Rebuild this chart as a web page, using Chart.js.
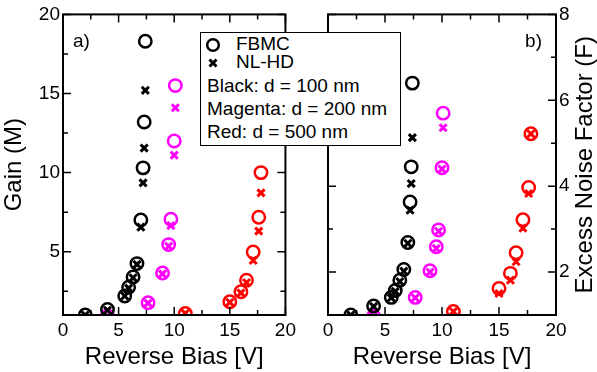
<!DOCTYPE html>
<html>
<head>
<meta charset="utf-8">
<script src="https://cdn.jsdelivr.net/npm/chart.js@4.4.0/dist/chart.umd.min.js"></script>
<style>
  body { margin: 0; background: #fff; font-family: "Liberation Sans", Arial, sans-serif; }
  #wrap { position: relative; width: 597px; height: 372px; overflow: hidden; }
  #c1 { position: absolute; left: 0; top: 0; }
  #c2 { position: absolute; left: 300px; top: 0; }
  #legend { position: absolute; left: 200px; top: 32px; width: 201px; height: 114px; box-sizing: border-box;
            border: 1.5px solid #000; background: #fff; font-size: 19px; color: #000; }
  #legend div { position: absolute; line-height: 20px; white-space: nowrap; }
  #legend svg { position: absolute; }
</style>
</head>
<body>
<div id="wrap">
  <canvas id="c1" width="300" height="372"></canvas>
  <canvas id="c2" width="297" height="372"></canvas>
  <div id="legend">
    <svg style="left:4px;top:4px" width="16" height="16"><circle cx="8" cy="8" r="5.8" fill="none" stroke="#000" stroke-width="2.5"/></svg>
    <div style="left:35px;top:1px">FBMC</div>
    <svg style="left:4px;top:22px" width="16" height="16"><path d="M4.5 4.5L11.5 11.5M11.5 4.5L4.5 11.5" stroke="#000" stroke-width="3"/></svg>
    <div style="left:35px;top:19px">NL-HD</div>
    <div style="left:6px;top:43px">Black: d = 100 nm</div>
    <div style="left:6px;top:66px">Magenta: d = 200 nm</div>
    <div style="left:6px;top:89px">Red: d = 500 nm</div>
  </div>
</div>
<script>
// reverse bias [V] for each thickness
var biasBlack = [2.0, 4.0, 5.55, 5.9, 6.3, 6.65, 7.0, 7.2, 7.3, 7.4];
var biasMagenta = [4.0, 7.65, 8.95, 9.5, 9.7, 10.0, 10.1];
var biasRed = [11.0, 15.0, 16.0, 16.5, 17.1, 17.6, 17.8];

// gain M
var gainBlackFBMC = [1.0, 1.35, 2.2, 2.75, 3.4, 4.25, 7.0, 10.3, 13.2, 18.3];
var gainBlackNLHD = [1.0, 1.3, 2.2, 2.7, 3.35, 4.2, 6.55, 9.35, 11.55, 15.2];
var gainMagentaFBMC = [0.95, 1.78, 3.65, 5.45, 7.05, 12.0, 15.5];
var gainMagentaNLHD = [0.95, 1.75, 3.6, 5.35, 6.65, 11.1, 14.1];
var gainRedFBMC = [1.1, 1.84, 2.47, 3.2, 4.98, 7.18, 10.0];
var gainRedNLHD = [1.1, 1.8, 2.4, 3.05, 4.45, 6.3, 8.72];

// excess noise factor F
var noiseBlackFBMC = [1.0, 1.21, 1.41, 1.57, 1.81, 2.06, 2.69, 3.63, 4.45, 6.4];
var noiseBlackNLHD = [1.0, 1.2, 1.4, 1.55, 1.78, 2.02, 2.67, 3.44, 4.06, 5.13];
var noiseMagentaFBMC = [0.97, 1.41, 2.03, 2.59, 2.98, 4.43, 5.7];
var noiseMagentaNLHD = [0.97, 1.4, 2.0, 2.55, 2.95, 4.4, 5.36];
var noiseRedFBMC = [1.08, 1.62, 1.97, 2.45, 3.22, 3.97, 5.22];
var noiseRedNLHD = [1.08, 1.5, 1.81, 2.24, 3.02, 3.83, 5.22];

// ticks
var biasTicks = [0, 5, 10, 15, 20];
var biasMinor = [2.5, 7.5, 12.5, 17.5];
var gainTicks = [5, 10, 15, 20];
var gainMinor = [2.5, 7.5, 12.5, 17.5];
var noiseTicks = [2, 4, 6, 8];
var noiseMinor = [1, 3, 5, 7];

function pts(xs, ys) {
    return xs.map(function (x, i) { return { x: x, y: ys[i] }; });
}

function circles(xs, ys, color) {
    return { data: pts(xs, ys), pointStyle: "circle", pointRadius: 6.2, borderWidth: 2.5,
             borderColor: color, backgroundColor: "rgba(0,0,0,0)", clip: 0 };
}

function crosses(xs, ys, color) {
    return { data: pts(xs, ys), pointStyle: "crossRot", pointRadius: 5, borderWidth: 3,
             borderColor: color, backgroundColor: color, clip: 0 };
}

// frame with inward ticks, panel label, optional right title
var framePlugin = {
    id: "frame",
    afterDatasetsDraw: function (chart, args, o) {
        var ctx = chart.ctx, a = chart.chartArea;
        var sx = chart.scales.x, sy = chart.scales.y;
        ctx.save();
        ctx.strokeStyle = "#000";
        ctx.lineWidth = 1.5;
        function xt(list, len) {
            list.forEach(function (v) {
                var p = sx.getPixelForValue(v);
                ctx.beginPath();
                ctx.moveTo(p, a.bottom); ctx.lineTo(p, a.bottom - len);
                ctx.moveTo(p, a.top); ctx.lineTo(p, a.top + len);
                ctx.stroke();
            });
        }
        function yt(list, len) {
            list.forEach(function (v) {
                var p = sy.getPixelForValue(v);
                ctx.beginPath();
                ctx.moveTo(a.left, p); ctx.lineTo(a.left + len, p);
                ctx.moveTo(a.right, p); ctx.lineTo(a.right - len, p);
                ctx.stroke();
            });
        }
        xt(biasTicks, 8); xt(biasMinor, 5);
        yt(o.yMajor, 8); yt(o.yMinor, 5);
        ctx.lineWidth = 2;
        ctx.strokeRect(a.left, a.top, a.right - a.left, a.bottom - a.top);

        ctx.fillStyle = "#000";
        ctx.font = "19px 'Liberation Sans', Arial, sans-serif";
        ctx.textBaseline = "middle";
        ctx.textAlign = o.labelAlign;
        ctx.fillText(o.label, o.labelAlign === "left" ? a.left + 10 : a.right - 14, a.top + 27);

        if (o.rightTitle) {
            ctx.font = "24px 'Liberation Sans', Arial, sans-serif";
            ctx.textAlign = "center";
            ctx.translate(chart.width - 12, (a.top + a.bottom) / 2);
            ctx.rotate(-Math.PI / 2);
            ctx.fillText(o.rightTitle, 0, 0);
        }
        ctx.restore();
    }
};

Chart.defaults.font.family = "'Liberation Sans', Arial, sans-serif";
Chart.defaults.color = "#000";

function xScale() {
    return {
        type: "linear", min: 0, max: 20,
        afterBuildTicks: function (s) { s.ticks = biasTicks.map(function (v) { return { value: v }; }); },
        grid: { display: false, drawTicks: false },
        border: { display: false },
        ticks: { font: { size: 19 }, padding: 4, maxRotation: 0 },
        title: { display: true, text: "Reverse Bias [V]", font: { size: 24 }, padding: { top: 0, bottom: 0 } },
        afterFit: function (s) { s.height = 57; }
    };
}

new Chart(document.getElementById("c1"), {
    type: "scatter",
    data: {
        datasets: [
            circles(biasBlack, gainBlackFBMC, "#000000"),
            crosses(biasBlack, gainBlackNLHD, "#000000"),
            circles(biasMagenta, gainMagentaFBMC, "#ff00ff"),
            crosses(biasMagenta, gainMagentaNLHD, "#ff00ff"),
            circles(biasRed, gainRedFBMC, "#ff0000"),
            crosses(biasRed, gainRedNLHD, "#ff0000")
        ]
    },
    options: {
        responsive: false,
        animation: false,
        events: [],
        layout: { padding: { top: 13, right: 10, left: 0, bottom: 0 } },
        plugins: {
            legend: { display: false },
            tooltip: { enabled: false },
            frame: { yMajor: gainTicks, yMinor: gainMinor, label: "a)", labelAlign: "left" }
        },
        scales: {
            x: xScale(),
            y: {
                type: "linear", min: 1, max: 20,
                afterBuildTicks: function (s) { s.ticks = gainTicks.map(function (v) { return { value: v }; }); },
                grid: { display: false, drawTicks: false },
                border: { display: false },
                ticks: { font: { size: 19 }, padding: 3 },
                title: { display: true, text: "Gain (M)", font: { size: 24 }, padding: { top: 0, bottom: 0 } },
                afterFit: function (s) { s.width = 63; }
            }
        }
    },
    plugins: [framePlugin]
});

new Chart(document.getElementById("c2"), {
    type: "scatter",
    data: {
        datasets: [
            circles(biasBlack, noiseBlackFBMC, "#000000"),
            crosses(biasBlack, noiseBlackNLHD, "#000000"),
            circles(biasMagenta, noiseMagentaFBMC, "#ff00ff"),
            crosses(biasMagenta, noiseMagentaNLHD, "#ff00ff"),
            circles(biasRed, noiseRedFBMC, "#ff0000"),
            crosses(biasRed, noiseRedNLHD, "#ff0000")
        ]
    },
    options: {
        responsive: false,
        animation: false,
        events: [],
        layout: { padding: { top: 13, right: 0, left: 28, bottom: 0 } },
        plugins: {
            legend: { display: false },
            tooltip: { enabled: false },
            frame: { yMajor: noiseTicks, yMinor: noiseMinor, label: "b)", labelAlign: "right",
                     rightTitle: "Excess Noise Factor (F)" }
        },
        scales: {
            x: xScale(),
            y: {
                type: "linear", position: "right", min: 1, max: 8,
                afterBuildTicks: function (s) { s.ticks = noiseTicks.map(function (v) { return { value: v }; }); },
                grid: { display: false, drawTicks: false },
                border: { display: false },
                ticks: { font: { size: 19 }, padding: 3 },
                afterFit: function (s) { s.width = 41; }
            }
        }
    },
    plugins: [framePlugin]
});
</script>
</body>
</html>
